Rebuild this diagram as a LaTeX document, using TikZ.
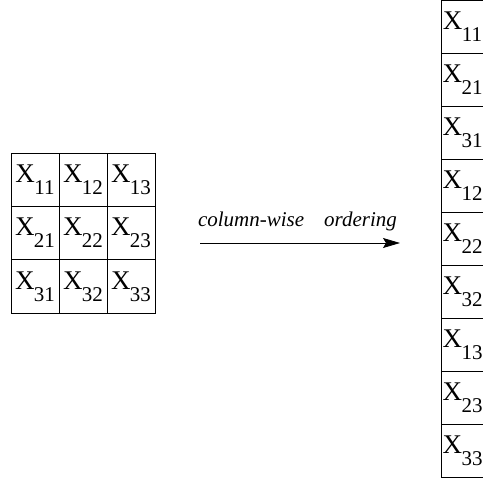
\documentclass[tikz,border=0pt]{standalone}
\usepackage{fontspec}
\setmainfont{Liberation Serif}
\usetikzlibrary{arrows.meta}
\newcommand\xsub[1]{{\fontsize{27pt}{27pt}\selectfont X}\kern-0.5pt\raisebox{-12pt}{\fontsize{21pt}{21pt}\selectfont #1}}
\tikzset{
  gcell/.style={draw, line width=0.8pt, minimum width=48pt, minimum height=53.3pt, inner sep=0pt, outer sep=0pt},
  ccell/.style={draw, line width=0.8pt, minimum width=43pt, minimum height=53pt, inner sep=0pt, outer sep=0pt},
  lab/.style={font=\fontsize{21pt}{21pt}\selectfont\itshape, inner sep=0pt},
  arr/.style={line width=0.8pt, -{Stealth[length=17pt,width=10pt,inset=3pt]}}
}
\begin{document}
\begin{tikzpicture}
\useasboundingbox (0,0) rectangle (483pt,-480pt);
% left grid: x 11..155, y 153..313
\foreach \r in {1,2,3}{
  \foreach \c in {1,2,3}{
    \node[gcell] (g\r\c) at ({11pt+48pt*(\c-0.5)}, {-153pt-53.33pt*(\r-0.5)}) {\xsub{\r\c}};
  }
}
% right column
\foreach \k/\lbl in {1/11,2/21,3/31,4/12,5/22,6/32,7/13,8/23,9/33}{
  \node[ccell] (c\lbl) at (462.5pt, {-0.5pt-53pt*(\k-0.5)}) {\xsub{\lbl}};
}
\coordinate (as) at (200pt,-243pt);
\coordinate (ae) at (400pt,-243pt);
\draw[arr] (as) -- (ae);
\node[lab, anchor=base] (label) at (297.5pt,-226pt) {column-wise\hspace{20pt}ordering};
\end{tikzpicture}
\end{document}
